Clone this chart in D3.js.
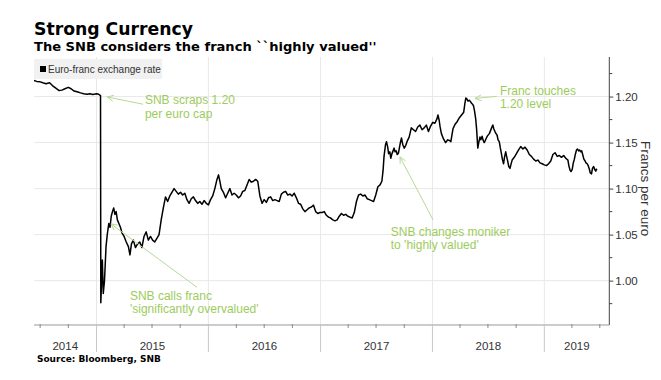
<!DOCTYPE html>
<html><head><meta charset="utf-8">
<script src="https://cdn.jsdelivr.net/npm/d3@7"></script>
<style>body{margin:0;background:#fff}</style>
</head><body>
<svg id="c" width="661" height="380"></svg>
<script>
// ---- data ----
const dates = [
"2014-06-11","2014-06-20","2014-07-01","2014-07-10","2014-07-20","2014-08-01","2014-08-10","2014-08-20","2014-09-01","2014-09-10","2014-09-20",
"2014-10-01","2014-10-10","2014-10-20","2014-11-01","2014-11-10","2014-11-20","2014-12-01","2014-12-10","2014-12-20",
"2015-01-01","2015-01-08","2015-01-14","2015-01-15","2015-01-20","2015-01-23","2015-01-27","2015-02-01","2015-02-05","2015-02-10","2015-02-14","2015-02-18","2015-02-22","2015-02-26",
"2015-03-02","2015-03-06","2015-03-10","2015-03-15","2015-03-20","2015-03-25","2015-04-01","2015-04-08","2015-04-15","2015-04-20","2015-04-25",
"2015-05-01","2015-05-08","2015-05-15","2015-05-22","2015-05-29","2015-06-05","2015-06-12","2015-06-19","2015-06-26",
"2015-07-03","2015-07-10","2015-07-17","2015-07-24","2015-07-31","2015-08-07","2015-08-14","2015-08-21","2015-08-28",
"2015-09-04","2015-09-11","2015-09-18","2015-09-25","2015-10-02","2015-10-09","2015-10-16","2015-10-23","2015-10-30",
"2015-11-06","2015-11-13","2015-11-20","2015-11-27","2015-12-04","2015-12-11","2015-12-18","2015-12-25",
"2016-01-01","2016-01-08","2016-01-15","2016-01-22","2016-01-29","2016-02-03","2016-02-08","2016-02-12","2016-02-19","2016-02-26",
"2016-03-04","2016-03-11","2016-03-18","2016-03-25","2016-04-01","2016-04-08","2016-04-15","2016-04-22","2016-04-29",
"2016-05-06","2016-05-13","2016-05-20","2016-05-27","2016-06-03","2016-06-10","2016-06-17","2016-06-24",
"2016-07-01","2016-07-08","2016-07-15","2016-07-22","2016-07-29","2016-08-05","2016-08-12","2016-08-19","2016-08-26",
"2016-09-02","2016-09-09","2016-09-16","2016-09-23","2016-09-30","2016-10-07","2016-10-14","2016-10-21","2016-10-28",
"2016-11-04","2016-11-11","2016-11-18","2016-11-25","2016-12-02","2016-12-09","2016-12-16","2016-12-23","2016-12-30",
"2017-01-06","2017-01-13","2017-01-20","2017-01-27","2017-02-03","2017-02-10","2017-02-17","2017-02-24",
"2017-03-03","2017-03-10","2017-03-17","2017-03-24","2017-03-31","2017-04-07","2017-04-14","2017-04-21","2017-04-28",
"2017-05-05","2017-05-12","2017-05-19","2017-05-26","2017-06-02","2017-06-09","2017-06-16","2017-06-23","2017-06-30",
"2017-07-07","2017-07-14","2017-07-20","2017-07-24","2017-07-27","2017-08-01","2017-08-04","2017-08-08","2017-08-11","2017-08-15","2017-08-18","2017-08-22","2017-08-29",
"2017-09-01","2017-09-05","2017-09-08","2017-09-12","2017-09-15","2017-09-19","2017-09-22","2017-09-26",
"2017-10-01","2017-10-06","2017-10-10","2017-10-17","2017-10-24","2017-10-31","2017-11-07","2017-11-14","2017-11-21","2017-11-28",
"2017-12-05","2017-12-12","2017-12-19","2017-12-26",
"2018-01-02","2018-01-09","2018-01-16","2018-01-19","2018-01-23","2018-01-26","2018-01-30","2018-02-06","2018-02-13","2018-02-20","2018-02-27",
"2018-03-02","2018-03-09","2018-03-16","2018-03-23","2018-03-30","2018-04-06","2018-04-13","2018-04-17","2018-04-20","2018-04-24","2018-04-27",
"2018-05-01","2018-05-04","2018-05-08","2018-05-11","2018-05-15","2018-05-18","2018-05-22","2018-05-25","2018-05-29",
"2018-06-01","2018-06-05","2018-06-08","2018-06-12","2018-06-15","2018-06-19","2018-06-22","2018-06-26","2018-06-29",
"2018-07-06","2018-07-13","2018-07-17","2018-07-20","2018-07-24","2018-07-27","2018-07-31",
"2018-08-03","2018-08-07","2018-08-10","2018-08-14","2018-08-17","2018-08-21","2018-08-24","2018-08-28","2018-08-31",
"2018-09-04","2018-09-07","2018-09-11","2018-09-14","2018-09-18","2018-09-25","2018-10-02","2018-10-09","2018-10-16","2018-10-23","2018-10-30",
"2018-11-06","2018-11-13","2018-11-20","2018-11-27","2018-12-04","2018-12-11","2018-12-18","2018-12-25",
"2019-01-01","2019-01-08","2019-01-15","2019-01-22","2019-01-29","2019-02-05","2019-02-12","2019-02-19","2019-02-26",
"2019-03-05","2019-03-12","2019-03-19","2019-03-22","2019-03-26","2019-03-29","2019-04-02","2019-04-05","2019-04-09","2019-04-12","2019-04-16","2019-04-19","2019-04-23","2019-04-26","2019-04-30",
"2019-05-03","2019-05-07","2019-05-10","2019-05-14","2019-05-17","2019-05-21","2019-05-24","2019-05-28","2019-05-31",
"2019-06-04","2019-06-07","2019-06-11","2019-06-14","2019-06-18","2019-06-20","2019-06-21"
];
const rates = [
1.2174,1.2165,1.2160,1.2150,1.2140,1.2150,1.2120,1.2095,1.2065,1.2070,1.2085,
1.2100,1.2085,1.2060,1.2050,1.2040,1.2030,1.2025,1.2030,1.2022,
1.2030,1.2025,1.2010,0.976,1.0225,0.986,1.000,1.037,1.050,1.062,1.058,1.070,1.075,1.079,
1.072,1.075,1.066,1.062,1.058,1.052,1.048,1.042,1.037,1.028,1.040,
1.044,1.036,1.040,1.042,1.036,1.048,1.053,1.044,1.048,
1.044,1.042,1.046,1.050,1.066,1.079,1.091,1.086,1.092,
1.096,1.100,1.097,1.094,1.096,1.093,1.095,1.088,1.084,
1.089,1.091,1.087,1.084,1.086,1.083,1.087,1.084,
1.0823,1.088,1.092,1.100,1.110,1.1149,1.107,1.100,1.096,1.090,
1.095,1.100,1.093,1.095,1.093,1.090,1.092,1.097,1.098,
1.104,1.110,1.107,1.108,1.110,1.108,1.092,1.084,
1.088,1.085,1.090,1.091,1.087,1.088,1.087,1.086,1.094,
1.096,1.097,1.093,1.094,1.092,1.095,1.090,1.084,1.083,
1.078,1.075,1.077,1.079,1.080,1.082,1.075,1.073,1.074,
1.074,1.075,1.071,1.069,1.068,1.066,1.065,1.066,
1.070,1.073,1.071,1.072,1.070,1.069,1.068,1.074,1.086,
1.093,1.094,1.092,1.093,1.089,1.088,1.087,1.086,1.093,
1.102,1.104,1.108,1.120,1.135,1.148,1.151,1.145,1.138,1.140,1.133,1.138,1.144,
1.140,1.141,1.137,1.1385,1.144,1.151,1.155,1.148,
1.144,1.147,1.151,1.156,1.166,1.164,1.162,1.167,1.169,1.164,
1.166,1.169,1.162,1.168,
1.172,1.171,1.176,1.180,1.174,1.167,1.160,1.154,1.150,1.153,1.152,
1.151,1.165,1.170,1.173,1.177,1.180,1.183,1.193,1.1985,1.197,1.195,
1.196,1.195,1.193,1.192,1.190,1.185,1.176,1.165,1.144,
1.150,1.156,1.153,1.157,1.153,1.150,1.152,1.155,1.157,
1.160,1.166,1.1692,1.165,1.162,1.160,1.158,
1.153,1.151,1.145,1.138,1.132,1.127,1.134,1.140,1.135,
1.129,1.124,1.122,1.126,1.131,1.134,1.138,1.142,1.1457,1.143,1.145,
1.142,1.137,1.135,1.132,1.130,1.131,1.128,1.127,
1.1258,1.125,1.127,1.130,1.137,1.139,1.135,1.136,1.134,
1.136,1.133,1.131,1.125,1.120,1.1185,1.121,1.127,1.132,1.137,1.142,1.143,1.141,1.142,1.140,
1.141,1.136,1.132,1.130,1.128,1.127,1.125,1.121,1.117,
1.116,1.122,1.124,1.121,1.119,1.121,1.120
];
const yTicks = [1.00, 1.05, 1.10, 1.15, 1.20];
const yMinorTicks = [0.975, 1.025, 1.075, 1.125, 1.175, 1.225];
const yearLabels = ["2014","2015","2016","2017","2018","2019"];
const title = "Strong Currency";
const subtitle = "The SNB considers the franch ``highly valued''";
const legendLabel = "Euro-franc exchange rate";
const yLabel = "Francs per euro";
const source = "Source: Bloomberg, SNB";
// annotations: text lines, text anchor (date, value per line), arrow tail and head (date, value)
const annotations = [
  {lines:["SNB scraps 1.20","per euro cap"], tx:"2015-06-08", ty:[1.1917,1.1765], tail:["2015-06-02",1.1917], head:["2015-02-05",1.1995]},
  {lines:["SNB calls franc","'significantly overvalued'"], tx:"2015-04-20", ty:[0.979,0.965], tail:["2015-11-25",0.9927], head:["2015-02-17",1.0616]},
  {lines:["SNB changes moniker","to 'highly valued'"], tx:"2017-08-18", ty:[1.0486,1.0345], tail:["2018-01-03",1.066], head:["2017-09-17",1.1345]},
  {lines:["Franc touches","1.20 level"], tx:"2018-08-09", ty:[1.2018,1.1872], tail:["2018-07-30",1.2002], head:["2018-05-20",1.198]}
];

// ---- chart ----
const parse = d3.timeParse("%Y-%m-%d");
const data = dates.map((d,i)=>({date:parse(d), v:rates[i]}));
const svg = d3.select("#c");
const L = 34, R = 609.3, T = 57, B = 325;
const x = d3.scaleTime().domain([parse("2014-06-11"), parse("2019-08-01")]).range([L, R]);
const y = d3.scaleLinear().domain([0.9518, 1.243]).range([B, T]);

const years = d3.timeYear.range(parse("2015-01-01"), parse("2019-06-01"));

// gridlines
svg.append("g").selectAll("line").data(yTicks).join("line")
  .attr("x1", L).attr("x2", R).attr("y1", d=>y(d)).attr("y2", d=>y(d))
  .attr("stroke", "#e8e8e8").attr("stroke-width", 1);
svg.append("g").selectAll("line").data(years).join("line")
  .attr("x1", d=>x(d)).attr("x2", d=>x(d)).attr("y1", T).attr("y2", B)
  .attr("stroke", "#e8e8e8").attr("stroke-width", 1);

// legend
svg.append("rect").attr("x", L).attr("y", 59).attr("width", 128).attr("height", 20).attr("fill", "#f1f1f1");
svg.append("rect").attr("x", 40).attr("y", 66).attr("width", 6).attr("height", 6).attr("fill", "#000");
svg.append("text").attr("x", 48).attr("y", 73).text(legendLabel)
  .attr("font-family", "Liberation Sans, Arial, sans-serif").attr("font-size", 10).attr("fill", "#333");

// line
const line = d3.line().x(d=>x(d.date)).y(d=>y(d.v));
svg.append("path").datum(data).attr("d", line)
  .attr("fill", "none").attr("stroke", "#000").attr("stroke-width", 1.5).attr("stroke-linejoin", "round");

// right axis
const yAxis = d3.axisRight(y).tickValues(yTicks).tickFormat(d3.format(".2f")).tickSize(4).tickPadding(2);
const ya = svg.append("g").attr("transform", `translate(${R},0)`).call(yAxis);
ya.select(".domain").attr("d", `M0,${T}V${B}`).attr("stroke", "#444");
ya.selectAll(".tick line").attr("stroke", "#444");
ya.selectAll(".tick text").attr("font-family", "Liberation Sans, Arial, sans-serif").attr("font-size", 11.5).attr("fill", "#333");
svg.append("g").selectAll("line").data(yMinorTicks).join("line")
  .attr("x1", R).attr("x2", R+3).attr("y1", d=>y(d)).attr("y2", d=>y(d)).attr("stroke", "#444");
svg.append("text").attr("transform", `translate(645,${(y(1.05)+y(1.15))/2}) rotate(90)`)
  .attr("text-anchor", "middle").attr("dominant-baseline", "middle")
  .attr("font-family", "Liberation Sans, Arial, sans-serif").attr("font-size", 13.5).attr("fill", "#333").text(yLabel);

// bottom axis
svg.append("line").attr("x1", L).attr("x2", R).attr("y1", B).attr("y2", B).attr("stroke", "#999");
svg.append("g").selectAll("line").data(years).join("line")
  .attr("x1", d=>x(d)).attr("x2", d=>x(d)).attr("y1", B).attr("y2", B+27).attr("stroke", "#c8c8c8");
const quarters = d3.timeMonth.every(3).range(x.domain()[0], x.domain()[1]).filter(d=>d.getMonth()!==0);
svg.append("g").selectAll("line").data(quarters).join("line")
  .attr("x1", d=>x(d)).attr("x2", d=>x(d)).attr("y1", B-1).attr("y2", B+3).attr("stroke", "#888");
svg.append("g").selectAll("text").data(yearLabels).join("text")
  .attr("x", d=>{
     const a = Math.max(x(parse(d+"-01-01")), L), b = Math.min(x(parse((+d+1)+"-01-01")), R);
     return (a+b)/2; })
  .attr("y", 349.5).attr("text-anchor", "middle")
  .attr("font-family", "Liberation Sans, Arial, sans-serif").attr("font-size", 11.5).attr("fill", "#333")
  .text(d=>d);

// annotations
const green = "#9dcc5c", arrowGreen = "#b7d996";
annotations.forEach(a=>{
  const x1 = x(parse(a.tail[0])), y1 = y(a.tail[1]), x2 = x(parse(a.head[0])), y2 = y(a.head[1]);
  svg.append("line").attr("x1", x1).attr("y1", y1).attr("x2", x2).attr("y2", y2)
    .attr("stroke", arrowGreen).attr("stroke-width", 1);
  const ang = Math.atan2(y1-y2, x1-x2), len = 7, sp = 0.45;
  const p1 = [x2+len*Math.cos(ang+sp), y2+len*Math.sin(ang+sp)];
  const p2 = [x2+len*Math.cos(ang-sp), y2+len*Math.sin(ang-sp)];
  svg.append("path").attr("d", `M${p1}L${x2},${y2}L${p2}`).attr("fill", "none")
    .attr("stroke", arrowGreen).attr("stroke-width", 1);
  a.lines.forEach((t,i)=>{
    svg.append("text").attr("x", x(parse(a.tx))).attr("y", y(a.ty[i])).text(t)
      .attr("font-family", "Liberation Sans, Arial, sans-serif").attr("font-size", 12).attr("fill", green);
  });
});

// titles (fitted to reference widths)
function fitText(sel, target){
  const w = sel.node().getComputedTextLength();
  const fs = parseFloat(sel.attr("font-size"));
  sel.attr("font-size", fs*target/w);
}
const t1 = svg.append("text").attr("x", 34).attr("y", 35).text(title)
  .attr("font-family", "DejaVu Sans, Verdana, sans-serif").attr("font-weight", "bold").attr("font-size", 18).attr("fill", "#000");
fitText(t1, 159);
const t2 = svg.append("text").attr("x", 34).attr("y", 51).text(subtitle)
  .attr("font-family", "DejaVu Sans, Verdana, sans-serif").attr("font-weight", "bold").attr("font-size", 14).attr("fill", "#000");
fitText(t2, 343);
const t3 = svg.append("text").attr("x", 37).attr("y", 362).text(source)
  .attr("font-family", "DejaVu Sans, Verdana, sans-serif").attr("font-weight", "bold").attr("font-size", 10).attr("fill", "#000");
fitText(t3, 124);
</script>
</body></html>
